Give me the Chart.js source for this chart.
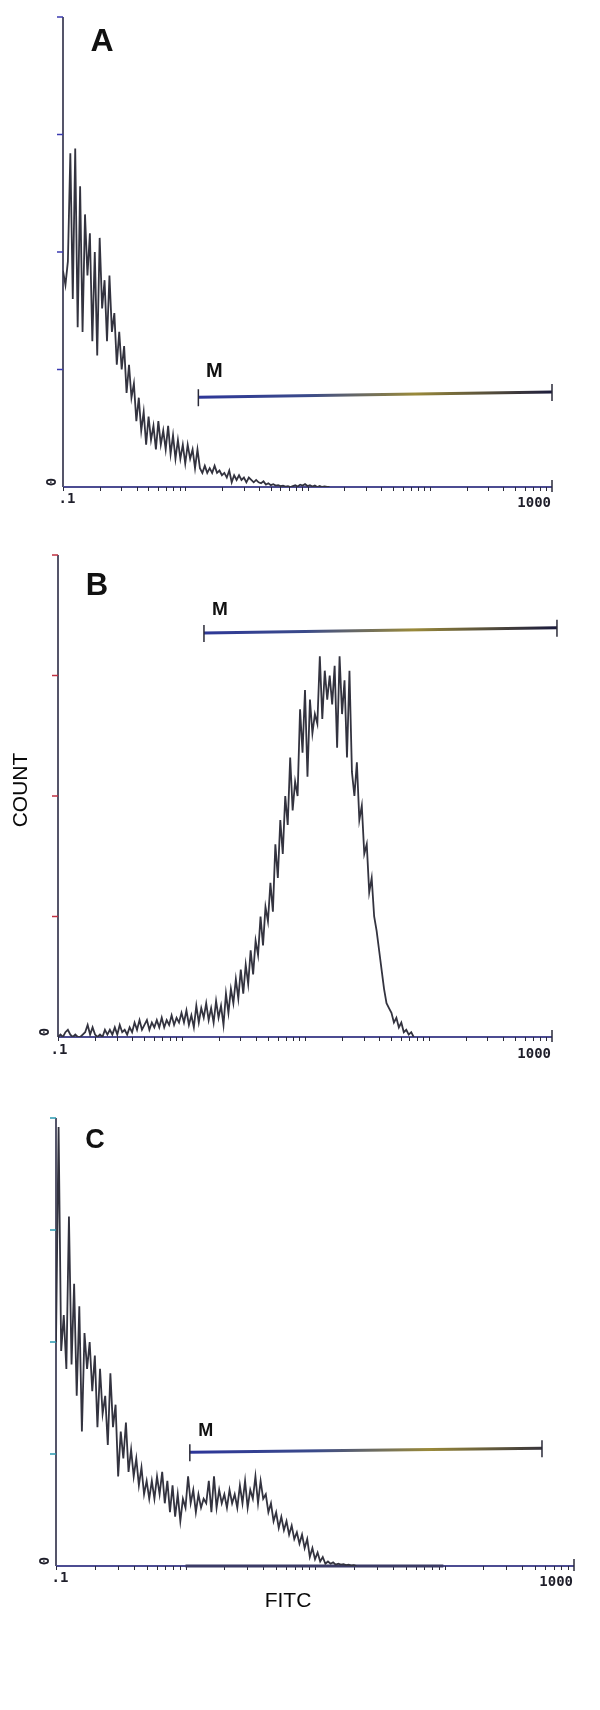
<!DOCTYPE html>
<html>
<head>
<meta charset="utf-8">
<script src="https://cdn.jsdelivr.net/npm/chart.js@4.4.1/dist/chart.umd.min.js"></script>
<style>
    html, body { margin: 0; padding: 0; background: #fff; }
    body { width: 600px; height: 1710px; position: relative; overflow: hidden; }
    .panel { position: absolute; left: 0; width: 600px; }
</style>
</head>
<body>
<div class="panel" style="top:0;height:530px"><canvas id="chart-a"></canvas></div>
<div class="panel" style="top:530px;height:540px"><canvas id="chart-b"></canvas></div>
<div class="panel" style="top:1070px;height:640px"><canvas id="chart-c"></canvas></div>
<script>
// histogram counts, one value per channel (50 channels per decade, starting at .1)
const CHANNELS_PER_DECADE = 50;

const countsA = [
    46, 43, 48, 71, 40, 72, 34, 64, 33, 58,
    45, 54, 31, 50, 28, 53, 38, 44, 31, 45,
    33, 37, 26, 33, 25, 30, 20, 26, 19, 22,
    14, 19, 12, 16, 9, 15, 10, 13, 8, 14,
    9, 12, 8, 13, 7, 11, 6, 10, 6, 9,
    5, 9, 6, 8, 4, 8, 4, 3, 4.5, 3,
    4, 3, 4.5, 3, 3.5, 2.5, 3, 2, 3.5, 1,
    2.5, 1.5, 2.5, 1.5, 2, 1, 2, 1.5, 1, 1.5,
    1, 0.8, 1.2, 0.5, 0.8, 0.4, 0.6, 0.3, 0.4, 0.2,
    0.3, 0.1, 0.2, 0, 0.2, 0.4, 0.1, 0.5, 0.3, 0.6,
    0.2, 0.4, 0.1, 0.3, 0, 0.2, 0, 0.1, 0, 0
];

const countsB = [
    0, 0.5, 0, 1, 1.5, 0.5, 0, 0.5, 0, 0,
    0.5, 1, 2.5, 0.5, 2, 0.5, 0, 0.5, 0, 1.5,
    0.5, 1.5, 0.5, 2, 0.5, 2.5, 1, 1.5, 0.5, 2,
    1, 3, 1.5, 3.5, 1.5, 2.5, 3.5, 1.5, 3, 2,
    3.5, 2, 4, 2, 3.5, 2.5, 4.5, 2.5, 4, 3,
    5, 3, 5.5, 2.5, 4.5, 2, 6.5, 3, 6, 4,
    7, 3.5, 6, 3, 7.5, 4, 6.5, 2.5, 9, 5,
    10, 7, 12, 8, 14, 9, 15, 11, 18, 13,
    20, 17, 25, 19, 27, 24, 32, 26, 40, 33,
    45, 38, 50, 44, 58, 47, 53, 50, 68, 59,
    72, 54, 70, 63, 67, 65, 79, 66, 76, 70,
    75, 69, 77, 60, 79, 67, 74, 58, 76, 55,
    50, 57, 45, 48, 38, 40, 30, 33, 25, 22,
    18, 14, 10, 7, 6, 5, 3, 4, 2, 3,
    1, 1.5, 0.5, 1, 0
];

const countsC = [
    50, 98, 48, 56, 44, 78, 45, 63, 38, 58,
    30, 52, 44, 50, 39, 47, 31, 44, 34, 38,
    27, 43, 31, 36, 20, 30, 24, 32, 21, 26,
    20, 24, 18, 22, 16, 19, 15, 19, 15, 20,
    16, 21, 14, 19, 12, 18, 11, 16, 10, 15,
    13, 20, 14, 17, 12, 16, 13, 15, 14, 19,
    12, 20, 13, 17, 14, 16, 13, 17, 14, 16,
    13, 18, 14, 19, 13, 17, 15, 20, 14, 19,
    15, 16, 12, 14, 10, 12, 8.5, 11, 8, 10,
    7, 9, 6, 7.5, 5, 7, 4, 6, 2, 4,
    1.5, 3, 1, 2, 0.5, 1, 0.5, 0.8, 0.3, 0.5,
    0.3, 0.4, 0.2, 0.3, 0.1, 0.2, 0
];

// marker "M" : start / end on the FITC axis and its count level at each end
const gateA = [1.28, 1000];
const gateLevelA = [19.1, 20.2];
const gateB = [1.52, 1097];
const gateLevelB = [83.8, 84.9];
const gateC = [1.08, 566];
const gateLevelC = [25.4, 26.3];
// second marker lying on the baseline of C
const baseMarkC = [1.0, 98];

const xRange = [0.1, 1000];
const yRange = [0, 100];
const yTickValues = [25, 50, 75, 100];
const xTickLabels = ['.1', '1000'];
const yZeroLabel = '0';
const panelLetters = ['A', 'B', 'C'];
const gateLabel = 'M';
const xAxisTitle = 'FITC';
const yAxisTitle = 'COUNT';

function toPoints(counts) {
    return counts.map((c, i) => ({ x: xRange[0] * Math.pow(10, i / CHANNELS_PER_DECADE), y: c }));
}

function pair(xs, ys) {
    return xs.map((x, i) => ({ x: x, y: ys[i] }));
}

function gateGradient(context) {
    const chart = context.chart;
    const area = chart.chartArea;
    if (!area) return '#30306a';
    const g = chart.ctx.createLinearGradient(area.left, 0, area.right, 0);
    g.addColorStop(0, '#7a2a5a');
    g.addColorStop(0.25, '#2c349a');
    g.addColorStop(0.5, '#3a4a8a');
    g.addColorStop(0.72, '#9a8a3a');
    g.addColorStop(1, '#1c1c3c');
    return g;
}

const flowAxes = {
    id: 'flowAxes',
    beforeDatasetsDraw(chart, args, o) {
        const ctx = chart.ctx;
        const xs = chart.scales.x, ys = chart.scales.y;
        const x0 = xs.getPixelForValue(xRange[0]), x1 = xs.getPixelForValue(xRange[1]);
        const yb = ys.getPixelForValue(0), yt = ys.getPixelForValue(yRange[1]);
        const line = (ax, ay, bx, by) => { ctx.beginPath(); ctx.moveTo(ax, ay); ctx.lineTo(bx, by); ctx.stroke(); };
        ctx.save();

        ctx.strokeStyle = '#55556a';
        ctx.lineWidth = 2;
        line(x0, yt, x0, yb);

        ctx.strokeStyle = o.yTickColor;
        ctx.lineWidth = 1.5;
        yTickValues.forEach(v => {
            const py = ys.getPixelForValue(v);
            line(x0 - 6, py, x0, py);
        });

        ctx.strokeStyle = '#4c4c92';
        ctx.lineWidth = 2;
        line(x0, yb, x1, yb);

        ctx.strokeStyle = '#2a2a3a';
        ctx.lineWidth = 1;
        for (let d = xRange[0]; d < xRange[1]; d *= 10) {
            for (let k = 1; k < 10; k++) {
                const px = Math.round(xs.getPixelForValue(d * k)) + 0.5;
                line(px, yb, px, yb + 4);
            }
        }
        ctx.lineWidth = 1.5;
        line(x1, yb - 7, x1, yb + 5);
        ctx.restore();
    },
    afterDatasetsDraw(chart, args, o) {
        const ctx = chart.ctx;
        const xs = chart.scales.x, ys = chart.scales.y;
        const x0 = xs.getPixelForValue(xRange[0]), x1 = xs.getPixelForValue(xRange[1]);
        const yb = ys.getPixelForValue(0);
        ctx.save();

        // marker end bars
        const gate = chart.getDatasetMeta(1).data;
        ctx.strokeStyle = '#2a2a38';
        ctx.lineWidth = 1.5;
        gate.forEach(p => {
            ctx.beginPath();
            ctx.moveTo(p.x, p.y - 8);
            ctx.lineTo(p.x, p.y + 9);
            ctx.stroke();
        });

        ctx.fillStyle = '#111';
        ctx.textAlign = 'center';
        ctx.textBaseline = 'middle';
        ctx.font = 'bold ' + o.letterSize + 'px "Liberation Sans", Arial, sans-serif';
        ctx.fillText(o.letter, o.letterPos[0], o.letterPos[1]);

        ctx.font = 'bold ' + o.mSize + 'px "Liberation Sans", Arial, sans-serif';
        ctx.fillText(gateLabel, gate[0].x + 16, gate[0].y - o.mRise);

        ctx.fillStyle = '#1e1e2a';
        ctx.font = 'bold 14px "DejaVu Sans Mono", monospace';
        ctx.fillText(xTickLabels[0], x0 + o.dotOneDx, yb + o.labelDrop);
        ctx.textAlign = 'right';
        ctx.fillText(xTickLabels[1], x1 - 1, yb + o.labelDrop + 4);

        ctx.save();
        ctx.translate(x0 - o.zeroDx, yb - 5);
        ctx.rotate(-Math.PI / 2);
        ctx.textAlign = 'center';
        ctx.font = 'bold 14px "DejaVu Sans Mono", monospace';
        ctx.fillText(yZeroLabel, 0, 0);
        ctx.restore();

        if (o.yTitle) {
            ctx.save();
            ctx.translate(o.yTitle[0], o.yTitle[1]);
            ctx.rotate(-Math.PI / 2);
            ctx.textAlign = 'center';
            ctx.fillStyle = '#0a0a0a';
            ctx.font = '21px "Liberation Sans", Arial, sans-serif';
            ctx.fillText(yAxisTitle, 0, 0);
            ctx.restore();
        }
        if (o.xTitle) {
            ctx.textAlign = 'center';
            ctx.fillStyle = '#0a0a0a';
            ctx.font = '21px "Liberation Sans", Arial, sans-serif';
            ctx.fillText(xAxisTitle, o.xTitle[0], o.xTitle[1]);
        }
        ctx.restore();
    }
};

function makePanel(id, counts, gateX, gateY, extra, padding, opts) {
    const datasets = [
        {
            data: toPoints(counts),
            borderColor: '#33333f',
            borderWidth: 1.8,
            pointRadius: 0,
            tension: 0,
            fill: false
        },
        {
            data: pair(gateX, gateY),
            borderColor: gateGradient,
            borderWidth: 3,
            pointRadius: 0,
            tension: 0,
            clip: false
        }
    ];
    if (extra) {
        datasets.push({
            data: pair(extra, [0, 0]),
            borderColor: '#3a3a66',
            borderWidth: 3,
            pointRadius: 0,
            clip: false
        });
    }
    return new Chart(document.getElementById(id), {
        type: 'line',
        data: { datasets: datasets },
        options: {
            responsive: true,
            maintainAspectRatio: false,
            animation: false,
            events: [],
            layout: { padding: padding },
            plugins: {
                legend: { display: false },
                tooltip: { enabled: false },
                flowAxes: opts
            },
            scales: {
                x: { type: 'logarithmic', min: xRange[0], max: xRange[1], display: false },
                y: { type: 'linear', min: yRange[0], max: yRange[1], display: false }
            }
        },
        plugins: [flowAxes]
    });
}

makePanel('chart-a', countsA, gateA, gateLevelA, null,
    { left: 63, right: 48, top: 17, bottom: 43 },
    { letter: panelLetters[0], letterSize: 32, letterPos: [102, 42], mSize: 20, mRise: 26,
      yTickColor: '#3a3ab0', dotOneDx: 4, labelDrop: 12, zeroDx: 11 });

makePanel('chart-b', countsB, gateB, gateLevelB, null,
    { left: 58, right: 48, top: 25, bottom: 33 },
    { letter: panelLetters[1], letterSize: 31, letterPos: [97, 56], mSize: 19, mRise: 23,
      yTickColor: '#c03040', dotOneDx: 1, labelDrop: 13, zeroDx: 13, yTitle: [21, 260] });

makePanel('chart-c', countsC, gateC, gateLevelC, baseMarkC,
    { left: 56, right: 26, top: 48, bottom: 144 },
    { letter: panelLetters[2], letterSize: 27, letterPos: [95, 71], mSize: 18, mRise: 21,
      yTickColor: '#2a9ab0', dotOneDx: 4, labelDrop: 12, zeroDx: 11, xTitle: [288, 531] });
</script>
</body>
</html>
